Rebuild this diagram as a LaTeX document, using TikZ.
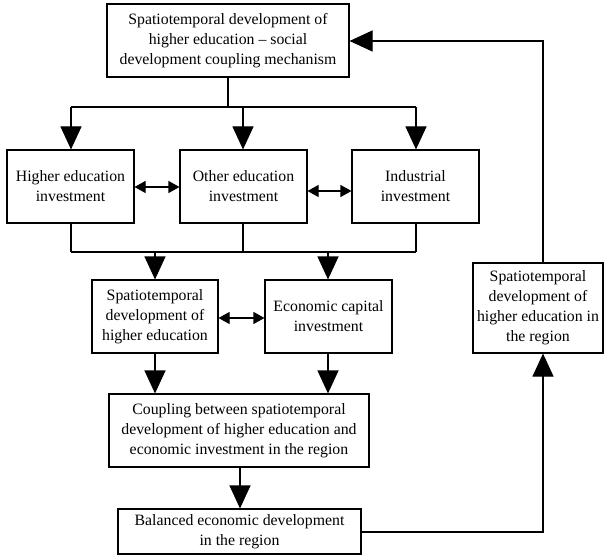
\documentclass[tikz,border=0pt]{standalone}
\usepackage{fontspec}
\setmainfont{Liberation Serif}
\usetikzlibrary{arrows.meta}
\tikzset{
  box/.style={draw=black, line width=1.1pt, fill=white, align=center,
    inner sep=0pt, font=\fontsize{15.8}{20}\selectfont},
  conn/.style={draw=black, line width=1.1pt},
  bigarrow/.style={conn, -{Triangle[length=23pt,width=21pt]}},
  twoway/.style={conn, {Triangle[length=11pt,width=12pt]}-{Triangle[length=11pt,width=12pt]}}
}
\begin{document}
\begin{tikzpicture}[x=1pt,y=-1pt]
\useasboundingbox (0,0) rectangle (610,559);

% boxes
\node[box, minimum width=242pt, minimum height=73pt] (top) at (228,40.5)
  {Spatiotemporal development of\\higher education -- social\\development coupling mechanism};
\node[box, minimum width=127pt, minimum height=73pt] (hei) at (70.5,186.5)
  {Higher education\\investment};
\node[box, minimum width=127pt, minimum height=73pt] (oei) at (243.5,186.5)
  {Other education\\investment};
\node[box, minimum width=127pt, minimum height=73pt] (ind) at (415.5,186.5)
  {Industrial\\investment};
\node[box, minimum width=126pt, minimum height=73pt] (sdhe) at (155,316.5)
  {Spatiotemporal\\development of\\higher education};
\node[box, minimum width=127pt, minimum height=73pt] (eci) at (328.5,316.5)
  {Economic capital\\investment};
\node[box, minimum width=130pt, minimum height=90pt] (reg) at (538,308)
  {Spatiotemporal\\development of\\higher education in\\the region};
\node[box, minimum width=260pt, minimum height=73pt] (coup) at (239,430.5)
  {Coupling between spatiotemporal\\development of higher education and\\economic investment in the region};
\node[box, minimum width=243pt, minimum height=45pt] (bal) at (239.5,531.5)
  {Balanced economic development\\in the region};

% junction points
\coordinate (split) at (228,107);
\coordinate (splitL) at (71,107);
\coordinate (splitM) at (243,107);
\coordinate (splitR) at (416,107);
\coordinate (mergeL) at (71,252);
\coordinate (mergeM) at (243,252);
\coordinate (mergeR) at (416,252);
\coordinate (dropA) at (155,252);
\coordinate (dropB) at (328,252);
\coordinate (loopB) at (543,532);
\coordinate (loopT) at (543,41);

% fan-out from the mechanism
\draw[conn] (top.south -| split) -- (split);
\draw[conn] (splitL) -- (splitR);
\draw[bigarrow] (splitL) -- (hei.north -| splitL);
\draw[bigarrow] (splitM) -- (oei.north -| splitM);
\draw[bigarrow] (splitR) -- (ind.north -| splitR);

% mutual links
\draw[twoway] (hei.east |- 0,187) -- (oei.west |- 0,187);
\draw[twoway] (oei.east |- 0,191) -- (ind.west |- 0,191);
\draw[twoway] (sdhe.east |- 0,318) -- (eci.west |- 0,318);

% merge of the three investments
\draw[conn] (hei.south -| mergeL) -- (mergeL);
\draw[conn] (oei.south -| mergeM) -- (mergeM);
\draw[conn] (ind.south -| mergeR) -- (mergeR);
\draw[conn] (mergeL) -- (mergeR);
\draw[bigarrow] (dropA) -- (sdhe.north -| dropA);
\draw[bigarrow] (dropB) -- (eci.north -| dropB);

% into the coupling box and down
\draw[bigarrow] (sdhe.south -| dropA) -- (coup.north -| dropA);
\draw[bigarrow] (eci.south -| dropB) -- (coup.north -| dropB);
\draw[bigarrow] (coup.south -| 240,0) -- (bal.north -| 240,0);

% feedback loop
\draw[bigarrow] (bal.east |- loopB) -- (loopB) -- (reg.south -| loopB);
\draw[bigarrow] (reg.north -| loopT) -- (loopT) -- (top.east |- loopT);
\end{tikzpicture}
\end{document}
